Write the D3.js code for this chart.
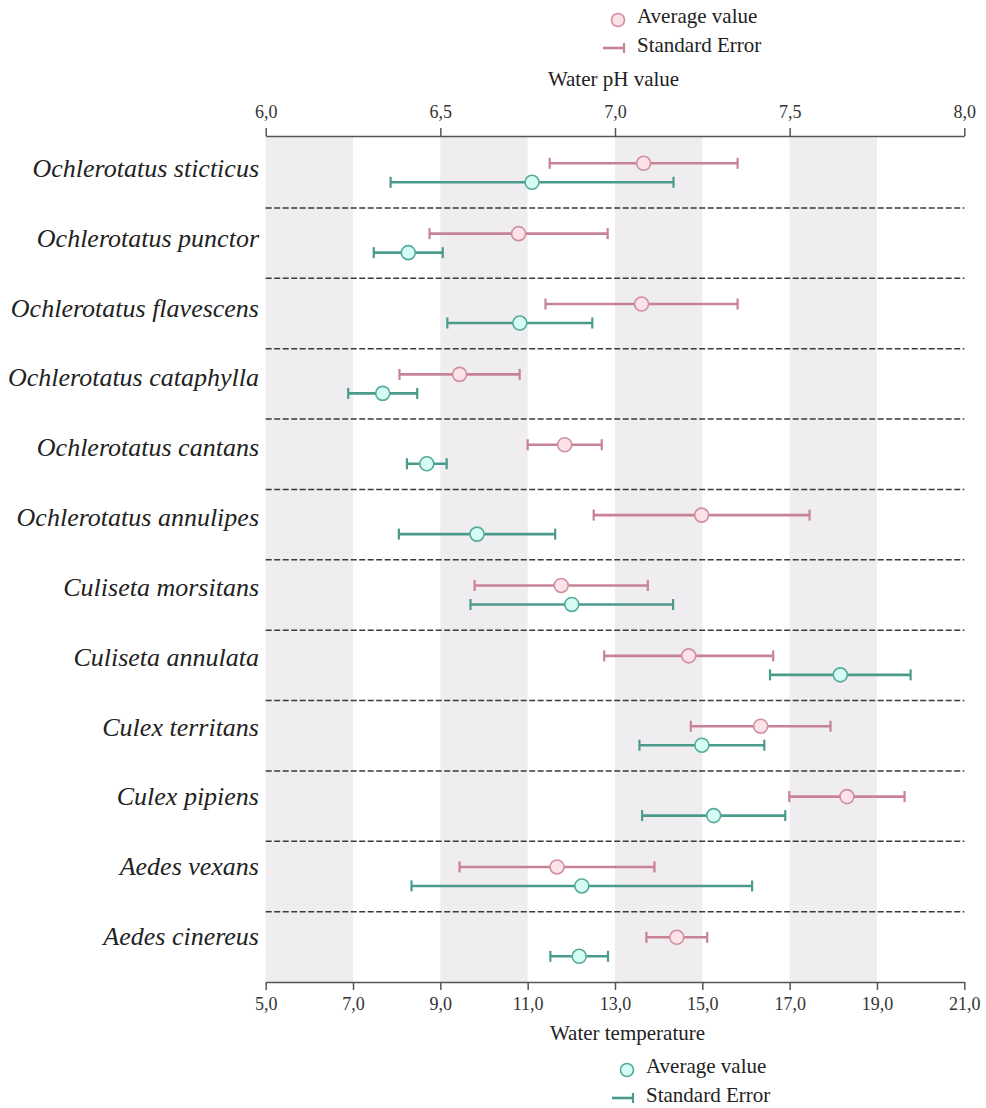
<!DOCTYPE html>
<html>
<head>
<meta charset="utf-8">
<script src="https://cdn.jsdelivr.net/npm/d3@7"></script>
<style>
  body { margin: 0; background: #fff; }
  text { font-family: "Liberation Serif", "Times New Roman", serif; fill: #222; }
</style>
</head>
<body>
<div id="grafico"></div>
<script>
// species, top to bottom
var especies = ["Ochlerotatus sticticus", "Ochlerotatus punctor", "Ochlerotatus flavescens",
  "Ochlerotatus cataphylla", "Ochlerotatus cantans", "Ochlerotatus annulipes",
  "Culiseta morsitans", "Culiseta annulata", "Culex territans", "Culex pipiens",
  "Aedes vexans", "Aedes cinereus"];

// water pH: average value and standard error
var ph_media = [7.082, 6.724, 7.076, 6.555, 6.856, 7.248, 6.846, 7.211, 7.417, 7.664, 6.834, 7.177];
var ph_erro = [0.269, 0.255, 0.275, 0.172, 0.106, 0.309, 0.248, 0.242, 0.200, 0.165, 0.279, 0.087];

// water temperature: average value and standard error
var temp_media = [11.10, 8.265, 10.82, 7.68, 8.69, 9.84, 12.01, 18.16, 14.99, 15.26, 12.24, 12.18];
var temp_erro = [3.24, 0.79, 1.66, 0.79, 0.455, 1.79, 2.32, 1.61, 1.43, 1.64, 3.90, 0.66];

var ph_ticks = [6.0, 6.5, 7.0, 7.5, 8.0];
var temp_ticks = [5, 7, 9, 11, 13, 15, 17, 19, 21];
var faixas = [[5, 7], [9, 11], [13, 15], [17, 19]];

var width = 986, height = 1108;
var m_esq = 265.7, m_dir = 964.3, m_topo = 136, m_base = 982;

var cor_ph = "#c88296", cor_ph_fill = "#fde2e8", cor_ph_borda = "#cf8fa1";
var cor_temp = "#4b9b8c", cor_temp_fill = "#d6fcf6", cor_temp_borda = "#55ab9a";

var svg = d3.select("#grafico")
            .append("svg")
            .attr("width", width)
            .attr("height", height);

var x_ph = d3.scaleLinear().domain([6, 8]).range([m_esq, m_dir]);
var x_temp = d3.scaleLinear().domain([5, 21]).range([m_esq, m_dir]);

var y = d3.scaleBand()
          .domain(especies)
          .range([137.6, m_base]);

var y_rotulo = d3.scalePoint()
                 .domain(especies)
                 .range([177, 945]);

var virgula = function(d){ return d.toFixed(1).replace(".", ","); };

// gray bands on the temperature scale
svg.append("g")
   .selectAll("rect")
   .data(faixas)
   .enter()
   .append("rect")
   .attr("x", function(d){ return x_temp(d[0]); })
   .attr("width", function(d){ return x_temp(d[1]) - x_temp(d[0]); })
   .attr("y", m_topo)
   .attr("height", m_base - m_topo)
   .style("fill", "#efedef");

// dashed separators between species
svg.append("g")
   .selectAll("line")
   .data(especies.slice(1))
   .enter()
   .append("line")
   .attr("x1", m_esq)
   .attr("x2", m_dir)
   .attr("y1", function(d){ return y(d); })
   .attr("y2", function(d){ return y(d); })
   .style("stroke", "#3a3a3a")
   .style("stroke-width", 1.5)
   .style("stroke-dasharray", "6,2.5");

// axes
var eixo_ph = svg.append("g")
   .attr("transform", "translate(0," + m_topo + ")")
   .call(d3.axisTop(x_ph).tickValues(ph_ticks).tickFormat(virgula).tickSize(8).tickSizeOuter(0));

eixo_ph.selectAll("text").attr("y", -18).attr("dy", 0).style("font-size", "18px");

var eixo_temp = svg.append("g")
   .attr("transform", "translate(0," + m_base + ")")
   .call(d3.axisBottom(x_temp).tickValues(temp_ticks).tickFormat(virgula).tickSize(8).tickSizeOuter(0));

eixo_temp.selectAll("text").attr("y", 28).attr("dy", 0).style("font-size", "18px");

svg.selectAll(".domain, .tick line")
   .style("stroke", "#555")
   .style("stroke-width", 1.5);

svg.selectAll(".tick text").style("fill", "#333");

svg.append("text")
   .attr("x", 613.5)
   .attr("y", 86)
   .attr("text-anchor", "middle")
   .style("font-size", "21px")
   .text("Water pH value");

svg.append("text")
   .attr("x", 627.5)
   .attr("y", 1040)
   .attr("text-anchor", "middle")
   .style("font-size", "21px")
   .text("Water temperature");

// species names
svg.append("g")
   .selectAll("text")
   .data(especies)
   .enter()
   .append("text")
   .attr("x", 259)
   .attr("y", function(d){ return y_rotulo(d); })
   .attr("text-anchor", "end")
   .style("font-size", "26px")
   .style("font-style", "italic")
   .text(function(d){ return d; });

// error bars and averages
function desenha_serie(media, erro, x, dy, cor, fill, borda){

    var linhas = especies.map(function(d, i){
        return { nome: d, m: media[i], e: erro[i] };
    });

    var g = svg.append("g");
    var meio = function(d){ return y(d.nome) + y.bandwidth() / 2 + dy; };

    g.selectAll(".barra")
     .data(linhas)
     .enter()
     .append("line")
     .attr("x1", function(d){ return x(d.m - d.e); })
     .attr("x2", function(d){ return x(d.m + d.e); })
     .attr("y1", meio)
     .attr("y2", meio)
     .style("stroke", cor)
     .style("stroke-width", 2.6);

    [-1, 1].forEach(function(lado){
        g.selectAll(".cap" + lado)
         .data(linhas)
         .enter()
         .append("line")
         .attr("x1", function(d){ return x(d.m + lado * d.e); })
         .attr("x2", function(d){ return x(d.m + lado * d.e); })
         .attr("y1", function(d){ return meio(d) - 5.5; })
         .attr("y2", function(d){ return meio(d) + 5.5; })
         .style("stroke", cor)
         .style("stroke-width", 2.2);
    });

    g.selectAll("circle")
     .data(linhas)
     .enter()
     .append("circle")
     .attr("cx", function(d){ return x(d.m); })
     .attr("cy", meio)
     .attr("r", 7)
     .style("fill", fill)
     .style("stroke", borda)
     .style("stroke-width", 1.6);
}

desenha_serie(ph_media, ph_erro, x_ph, -9.5, cor_ph, cor_ph_fill, cor_ph_borda);
desenha_serie(temp_media, temp_erro, x_temp, 9.5, cor_temp, cor_temp_fill, cor_temp_borda);

// legends
function legenda(cx, cy, cor, fill, borda){
    var g = svg.append("g");

    g.append("circle")
     .attr("cx", cx)
     .attr("cy", cy)
     .attr("r", 6.5)
     .style("fill", fill)
     .style("stroke", borda)
     .style("stroke-width", 1.6);

    g.append("text")
     .attr("x", cx + 19)
     .attr("y", cy + 3)
     .style("font-size", "21px")
     .text("Average value");

    g.append("line")
     .attr("x1", cx - 15)
     .attr("x2", cx + 6)
     .attr("y1", cy + 28)
     .attr("y2", cy + 28)
     .style("stroke", cor)
     .style("stroke-width", 2.6);

    g.append("line")
     .attr("x1", cx + 6)
     .attr("x2", cx + 6)
     .attr("y1", cy + 23)
     .attr("y2", cy + 33)
     .style("stroke", cor)
     .style("stroke-width", 2.2);

    g.append("text")
     .attr("x", cx + 19)
     .attr("y", cy + 32)
     .style("font-size", "21px")
     .text("Standard Error");
}

legenda(618, 20, cor_ph, cor_ph_fill, cor_ph_borda);
legenda(627, 1070, cor_temp, cor_temp_fill, cor_temp_borda);
</script>
</body>
</html>
